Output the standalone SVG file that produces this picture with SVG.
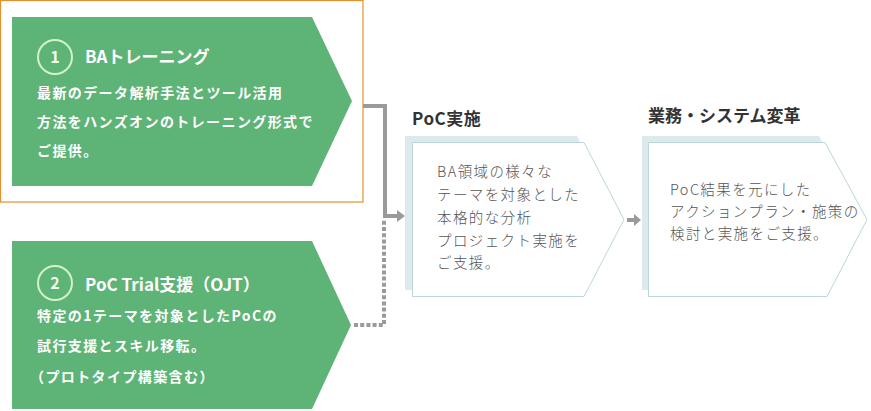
<svg xmlns="http://www.w3.org/2000/svg" width="871" height="411" viewBox="0 0 871 411">
<defs>
<style>
.jp{font-family:"Noto Sans CJK JP","Noto Sans",sans-serif;}
.gt{fill:#ffffff;font-weight:700;font-size:17px;}
.gb{fill:#ffffff;font-weight:700;font-size:14px;letter-spacing:1.4px;}
.num{fill:#f2faef;font-weight:700;font-size:16px;text-anchor:middle;}
.ring{fill:none;stroke:#d2f2cc;stroke-width:2;}
.green{fill:#5eb377;}
.hd{fill:#333333;font-weight:700;font-size:17px;letter-spacing:0.5px;}
.bt{fill:#555555;font-weight:300;font-size:14.5px;letter-spacing:1.4px;}
.shadow{fill:#dde9ea;}
.box{fill:#ffffff;stroke:#bcd7da;stroke-width:1;}
.conn{fill:none;stroke:#9a9a9a;stroke-width:4;}
.dot{fill:none;stroke:#9a9a9a;stroke-width:4;stroke-dasharray:4 2.2;}
.head{fill:#9a9a9a;}
</style>
</defs>
<rect x="0.5" y="0.5" width="362.5" height="201.5" fill="none" stroke="#e3912e" stroke-width="1.2"/>
<g id="connectors">
<polyline class="conn" points="363,106 385,106 385,218"/>
<line class="conn" x1="385" y1="216" x2="399" y2="216"/>
<polygon class="head" points="397,210 405,216 397,222"/>
<polyline class="dot" points="354,325 384,325 384,220"/>
<line class="conn" x1="627" y1="220" x2="635" y2="220"/>
<polygon class="head" points="634,214 641,220 634,226"/>
</g>
<g id="node-ba-training">
<polygon class="green" points="12,17 312,17 352,101 312,186 12,186"/>
<circle class="ring" cx="55" cy="57" r="17"/>
<text class="jp num" x="55" y="62.5">1</text>
<text class="jp gt" x="85" y="63">BAトレーニング</text>
<text class="jp gb" x="37" y="98">最新のデータ解析手法とツール活用</text>
<text class="jp gb" x="37" y="127">方法をハンズオンのトレーニング形式で</text>
<text class="jp gb" x="37" y="156">ご提供。</text>
</g>
<g id="node-poc-trial">
<polygon class="green" points="12,241 312,241 351,325 312,409 12,409"/>
<circle class="ring" cx="55" cy="283" r="17"/>
<text class="jp num" x="55" y="288.5">2</text>
<text class="jp gt" x="85" y="291">PoC Trial支援（OJT）</text>
<text class="jp gb" x="37" y="321">特定の1テーマを対象としたPoCの</text>
<text class="jp gb" x="37" y="351">試行支援とスキル移転。</text>
<text class="jp gb" x="30" y="382">（プロトタイプ構築含む）</text>
</g>
<g id="node-poc">
<text class="jp hd" x="412" y="125">PoC実施</text>
<polygon class="shadow" points="405,136 577,136 617,213 577,290 405,290"/>
<polygon class="box" points="412.5,142.5 584,142.5 624,219.5 584,296.5 412.5,296.5"/>
<text class="jp bt" x="437" y="177">BA領域の様々な</text>
<text class="jp bt" x="437" y="200">テーマを対象とした</text>
<text class="jp bt" x="437" y="223">本格的な分析</text>
<text class="jp bt" x="437" y="246">プロジェクト実施を</text>
<text class="jp bt" x="437" y="268">ご支援。</text>
</g>
<g id="node-transform">
<text class="jp hd" x="648" y="122" style="letter-spacing:0">業務・システム変革</text>
<polygon class="shadow" points="642,136 819,136 859,213 819,290 642,290"/>
<polygon class="box" points="648.5,142.5 825,142.5 867,219.5 827,296.5 648.5,296.5"/>
<text class="jp bt" x="670" y="195">PoC結果を元にした</text>
<text class="jp bt" x="670" y="217">アクションプラン・施策の</text>
<text class="jp bt" x="670" y="239">検討と実施をご支援。</text>
</g>
</svg>
